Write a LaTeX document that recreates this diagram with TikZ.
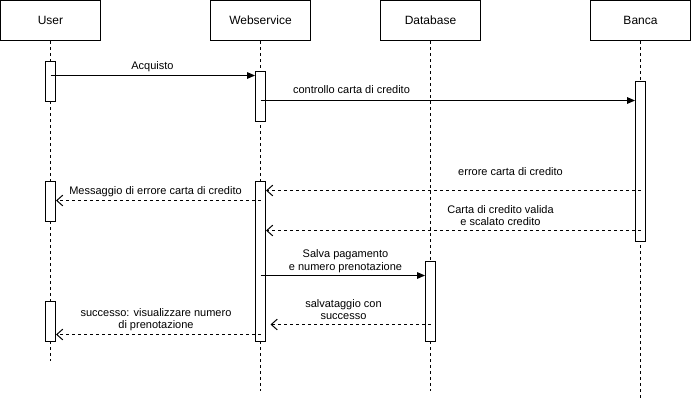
\documentclass[tikz,border=0pt]{standalone}
\usepackage{fontspec}
\setmainfont{Liberation Sans}
\usetikzlibrary{arrows.meta}
\begin{document}
\begin{tikzpicture}[x=0.75pt,y=-0.75pt,line width=0.75pt,
  header/.style={draw,minimum width=75pt,minimum height=30pt,inner sep=0pt,font=\fontsize{9}{11}\selectfont},
  act/.style={draw,fill=white,minimum width=7.5pt,inner sep=0pt,anchor=north},
  lifeline/.style={dash pattern=on 2.25pt off 2.25pt},
  call/.style={-{Triangle[length=6pt,width=5pt]}},
  reply/.style={dash pattern=on 2.25pt off 2.25pt,-{Straight Barb[length=4.5pt,width=8pt,line width=0.75pt]}},
  lbl/.style={font=\fontsize{8.25}{9.4}\selectfont,align=center,inner sep=0pt}]
\useasboundingbox (-0.5,-0.5) rectangle (691.5,400.5);
% headers
\node[header] (user) at (50,20) {User};
\node[header] (web) at (260,20) {Webservice};
\node[header] (db) at (430,20) {Database};
\node[header] (bank) at (640,20) {Banca};
% lifeline ends
\coordinate (userEnd) at (50,360);
\coordinate (webEnd) at (260,390);
\coordinate (dbEnd) at (430,390);
\coordinate (bankEnd) at (640,400);
\draw[lifeline] (user.south) -- (userEnd);
\draw[lifeline] (web.south) -- (webEnd);
\draw[lifeline] (db.south) -- (dbEnd);
\draw[lifeline] (bank.south) -- (bankEnd);
% activations
\node[act,minimum height=30pt] (ua1) at (50,60) {};
\node[act,minimum height=37.5pt] (wa1) at (260,70) {};
\node[act,minimum height=120pt] (ba) at (640,80) {};
\node[act,minimum height=30pt] (ua2) at (50,180) {};
\node[act,minimum height=120pt] (wa2) at (260,180) {};
\node[act,minimum height=60pt] (da) at (430,260) {};
\node[act,minimum height=30pt] (ua3) at (50,300) {};
% message levels
\coordinate (m1) at (0,75);
\coordinate (m2) at (0,100);
\coordinate (m3) at (0,190);
\coordinate (m4) at (0,200);
\coordinate (m5) at (0,230);
\coordinate (m6) at (0,275);
\coordinate (m7) at (0,324);
\coordinate (m8) at (0,334);
\coordinate (t7) at (270,324);
% messages
\draw[call] (ua1.center |- m1) -- (wa1.west |- m1);
\draw[call] (wa1.center |- m2) -- (ba.west |- m2);
\draw[reply] (ba.center |- m3) -- (wa2.east |- m3);
\draw[reply] (wa2.center |- m4) -- (ua2.east |- m4);
\draw[reply] (ba.center |- m5) -- (wa2.east |- m5);
\draw[call] (wa2.center |- m6) -- (da.west |- m6);
\draw[reply] (da.center |- m7) -- (t7);
\draw[reply] (wa2.center |- m8) -- (ua3.east |- m8);
% labels
\node[lbl] (l1) at (152,66) {Acquisto};
\node[lbl] (l2) at (351,89.5) {controllo carta di credito};
\node[lbl] (l3) at (510,171.5) {errore carta di credito};
\node[lbl] (l4) at (155,191.5) {Messaggio di errore carta di credito};
\node[lbl] (l5) at (500,215) {Carta di credito valida\\e scalato credito};
\node[lbl] (l6) at (345,260.5) {Salva pagamento\\e numero prenotazione};
\node[lbl] (l7) at (343,309) {salvataggio con\\successo};
\node[lbl] (l8) at (155.5,319) {successo: visualizzare numero\\di prenotazione};
\end{tikzpicture}
\end{document}
